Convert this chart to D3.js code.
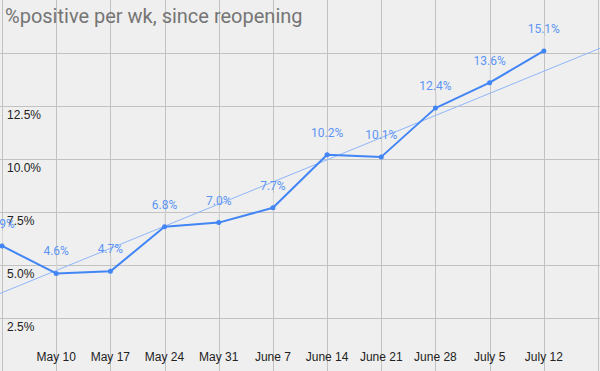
<!DOCTYPE html>
<html>
<head>
<meta charset="utf-8">
<script src="https://cdnjs.cloudflare.com/ajax/libs/d3/7.8.5/d3.min.js"></script>
<style>
  body { margin: 0; background: #efefef; }
  svg { display: block; }
</style>
</head>
<body>
<div id="chart"></div>
<script>
// weeks since reopening (May 3 .. July 12), July 19 is just the last grid column
var weeks = ["May 3", "May 10", "May 17", "May 24", "May 31", "June 7", "June 14", "June 21", "June 28", "July 5", "July 12", "July 19"];
var positive = [5.9, 4.6, 4.7, 6.8, 7.0, 7.7, 10.2, 10.1, 12.4, 13.6, 15.1];
var yTicks = [2.5, 5.0, 7.5, 10.0, 12.5, 15.0];
var yTickLabels = ["2.5%", "5.0%", "7.5%", "10.0%", "12.5%"];

var svgWidth = 600;
var svgHeight = 371;

var svg = d3.select("#chart")
  .append("svg")
  .attr("width", svgWidth)
  .attr("height", svgHeight);

svg.append("rect")
  .attr("width", svgWidth)
  .attr("height", svgHeight)
  .attr("fill", "#efefef");

var x = d3.scaleLinear()
  .domain([0, weeks.length - 1])
  .range([2, 598]);

var y = d3.scaleLinear()
  .domain([0, 17.5])
  .range([svgHeight, 0]);

// grid
svg.append("g").selectAll("line")
  .data(weeks)
  .enter().append("line")
  .attr("x1", function(d, i) { return Math.round(x(i)) + 0.5; })
  .attr("x2", function(d, i) { return Math.round(x(i)) + 0.5; })
  .attr("y1", 0)
  .attr("y2", svgHeight)
  .attr("stroke", "#c2c2c2")
  .attr("stroke-width", 1);

svg.append("g").selectAll("line")
  .data(yTicks)
  .enter().append("line")
  .attr("x1", 0)
  .attr("x2", svgWidth)
  .attr("y1", function(d) { return Math.round(y(d)) + 0.5; })
  .attr("y2", function(d) { return Math.round(y(d)) + 0.5; })
  .attr("stroke", "#c2c2c2")
  .attr("stroke-width", 1);

// y labels sit just under their gridline
svg.append("g").selectAll("text")
  .data(yTickLabels)
  .enter().append("text")
  .attr("x", 7)
  .attr("y", function(d, i) { return y(yTicks[i]) + 12.5; })
  .attr("font-family", "Liberation Sans, Arial, sans-serif")
  .attr("font-size", 12)
  .attr("fill", "#222")
  .text(function(d) { return d; });

// x labels (first and last column have none)
svg.append("g").selectAll("text")
  .data(weeks)
  .enter().append("text")
  .filter(function(d, i) { return i > 0 && i < weeks.length - 1; })
  .attr("x", function(d) { return x(weeks.indexOf(d)); })
  .attr("y", 361)
  .attr("text-anchor", "middle")
  .attr("font-family", "Liberation Sans, Arial, sans-serif")
  .attr("font-size", 12)
  .attr("fill", "#222")
  .text(function(d) { return d; });

// linear trendline
var mx = d3.mean(positive, function(d, i) { return i; });
var my = d3.mean(positive);
var sxy = d3.sum(positive, function(d, i) { return (i - mx) * (d - my); });
var sxx = d3.sum(positive, function(d, i) { return (i - mx) * (i - mx); });
var slope = sxy / sxx;
var icpt = my - slope * mx;
var x0 = x.invert(0), x1 = x.invert(svgWidth);

svg.append("line")
  .attr("x1", x(x0))
  .attr("y1", y(icpt + slope * x0))
  .attr("x2", x(x1))
  .attr("y2", y(icpt + slope * x1))
  .attr("stroke", "#8fb6f8")
  .attr("stroke-width", 1);

// leader lines from labels to points
svg.append("g").selectAll("line")
  .data(positive)
  .enter().append("line")
  .attr("x1", function(d, i) { return x(i) + 0.5; })
  .attr("x2", function(d, i) { return x(i) + 0.5; })
  .attr("y1", function(d) { return y(d) - 15; })
  .attr("y2", function(d) { return y(d) - 3; })
  .attr("stroke", "#d8d8d8")
  .attr("stroke-width", 1);

var line = d3.line()
  .x(function(d, i) { return x(i); })
  .y(function(d) { return y(d); });

svg.append("path")
  .datum(positive)
  .attr("d", line)
  .attr("fill", "none")
  .attr("stroke", "#4285f4")
  .attr("stroke-width", 2)
  .attr("stroke-linejoin", "round");

svg.append("g").selectAll("circle")
  .data(positive)
  .enter().append("circle")
  .attr("cx", function(d, i) { return x(i); })
  .attr("cy", function(d) { return y(d); })
  .attr("r", 2.5)
  .attr("fill", "#4285f4");

svg.append("g").selectAll("text")
  .data(positive)
  .enter().append("text")
  .attr("x", function(d, i) { return x(i); })
  .attr("y", function(d) { return y(d) - 18; })
  .attr("text-anchor", "middle")
  .attr("font-family", "Roboto, sans-serif")
  .attr("font-size", 12)
  .attr("fill", "#5c95f5")
  .text(function(d) { return d.toFixed(1) + "%"; });

svg.append("text")
  .attr("x", 5)
  .attr("y", 23)
  .attr("font-family", "Roboto, sans-serif")
  .attr("font-size", 20)
  .attr("fill", "#757575")
  .text("%positive per wk, since reopening");
</script>
</body>
</html>
